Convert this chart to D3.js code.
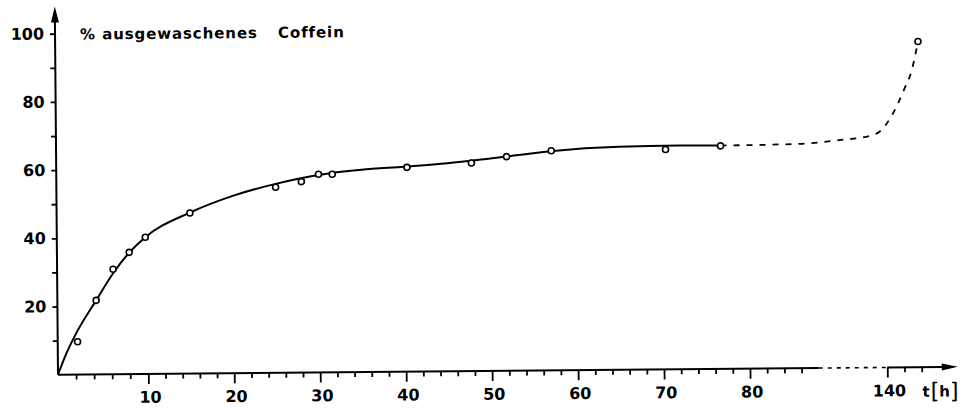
<!DOCTYPE html>
<html><head><meta charset="utf-8">
<script src="https://cdn.jsdelivr.net/npm/d3@7"></script>
<style>
body{margin:0;background:#fff}
svg{display:block}
text{font-family:"DejaVu Sans",sans-serif;font-weight:bold;fill:#000}
</style>
</head><body>
<svg id="c" width="962" height="410"></svg>
<script>
// measured points (t in hours, % washed-out caffeine)
const pointT = [2.2, 4.3, 6.2, 8, 9.8, 15, 25, 28, 30, 31.6, 40.3, 47.8, 51.9, 57.1, 70.4, 76.8, 143.9];
const pointV = [9.6, 21.7, 30.8, 35.7, 40.1, 47.1, 54.4, 56.0, 58.1, 58.1, 59.9, 61.0, 62.8, 64.4, 64.5, 65.4, 95.5];
// drawn fit curve (solid)
const fitT = [0, 1, 2.2, 4.3, 6.2, 8, 9.8, 15, 20, 25, 30, 35, 40, 45, 50, 57, 65, 72, 76.8];
const fitV = [0, 6.5, 12.8, 21.7, 29.6, 35.6, 40.1, 47.2, 52.0, 55.4, 57.9, 59.3, 60.1, 61.0, 62.3, 64.3, 65.4, 65.6, 65.5];
// dashed extrapolation
const dashT = [76.8, 86, 105, 128, 137, 140.6, 142.3, 143.1, 143.9];
const dashV = [65.5, 65.8, 66.8, 67.9, 69.6, 73.1, 81.8, 86.7, 95.5];
// ticks
const xTickValues = [10, 20, 30, 40, 50, 60, 70, 80, 140];
const xTickLabels = ["10", "20", "30", "40", "50", "60", "70", "80", "140"];
const xMinorValues = [2,4,6,8,12,14,16,18,22,24,26,28,32,34,36,38,42,44,46,48,52,54,56,58,62,64,66,68,72,74,76,78,82,84,86,142,144];
const yTickValues = [20, 40, 60, 80, 100];
const yTickLabels = ["20", "40", "60", "80", "100"];
const yMinorValues = [10, 30, 50, 70, 90];
const titleText = "% ausgewaschenes";
const titleText2 = "Coffein";

const svg = d3.select("#c");
const g = svg.append("g").attr("transform", "translate(58,374.7) rotate(-0.5)");

const x = d3.scaleLinear().domain([0, 10, 80, 88, 140, 150]).range([0, 90.3, 692, 760.8, 829.3, 915.3]);
const y = d3.scaleLinear().domain([0, 100]).range([0, -341]);

// x axis line: solid, dotted break, solid + arrow
g.append("line").attr("x1", x(0)).attr("x2", x(88)).attr("y1", 0).attr("y2", 0)
  .attr("stroke", "#000").attr("stroke-width", 2);
g.append("line").attr("x1", x(88)).attr("x2", x(140)).attr("y1", 0).attr("y2", 0)
  .attr("stroke", "#000").attr("stroke-width", 1.6).attr("stroke-dasharray", "4,5");
g.append("line").attr("x1", x(140)).attr("x2", x(146.5)).attr("y1", 0).attr("y2", 0)
  .attr("stroke", "#000").attr("stroke-width", 2);
const ax = x(148.2);
g.append("path").attr("d", `M${ax},0 L${ax-16},-3.6 L${ax-16},3.6 Z`).attr("fill", "#000");

// y axis line + arrow
const ay = y(108);
g.append("line").attr("x1", 0).attr("x2", 0).attr("y1", 0).attr("y2", ay + 10)
  .attr("stroke", "#000").attr("stroke-width", 2);
g.append("path").attr("d", `M0,${ay} L-4,${ay+16} L4,${ay+16} Z`).attr("fill", "#000");

// x ticks
const xMinorAxis = d3.axisBottom(x).tickValues(xMinorValues).tickSize(5).tickFormat("");
const xMajorAxis = d3.axisBottom(x).tickValues(xTickValues).tickSize(10).tickPadding(7.5)
  .tickFormat((d, i) => xTickLabels[i]);
const gxm = g.append("g").call(xMinorAxis);
const gxM = g.append("g").call(xMajorAxis);
[gxm, gxM].forEach(s => { s.select(".domain").remove(); s.selectAll("line").attr("stroke-width", 1.8); });
gxM.selectAll("text").attr("font-size", 16).attr("font-family", "DejaVu Sans").attr("font-weight", "bold").attr("dx", 1.5);

// y ticks
const yMinorAxis = d3.axisLeft(y).tickValues(yMinorValues).tickSize(5).tickFormat("");
const yMajorAxis = d3.axisLeft(y).tickValues(yTickValues).tickSize(5).tickPadding(6)
  .tickFormat((d, i) => yTickLabels[i]);
const gym = g.append("g").call(yMinorAxis);
const gyM = g.append("g").call(yMajorAxis);
[gym, gyM].forEach(s => { s.select(".domain").remove(); s.selectAll("line").attr("stroke-width", 1.8); });
gyM.selectAll("text").attr("font-size", 16).attr("font-family", "DejaVu Sans").attr("font-weight", "bold");

// axis title t[h]
const tl = g.append("text").attr("x", x(140) + 35).attr("y", 29.5).attr("font-size", 15);
tl.append("tspan").text("t");
tl.append("tspan").attr("font-size", 22).attr("font-weight", "normal").attr("dx", 1).attr("dy", 2).text("[");
tl.append("tspan").attr("font-size", 15).attr("dy", -2).text("h");
tl.append("tspan").attr("font-size", 22).attr("font-weight", "normal").attr("dy", 2).text("]");

// title
g.append("text").attr("x", 25).attr("y", y(100) + 6).attr("font-size", 15)
  .attr("letter-spacing", 0.9).text(titleText);
g.append("text").attr("x", 223).attr("y", y(100) + 6).attr("font-size", 15)
  .attr("letter-spacing", 0.9).text(titleText2);

// curves
const line = d3.line().x(d => x(d[0])).y(d => y(d[1])).curve(d3.curveMonotoneX);
g.append("path").attr("d", line(fitT.map((t, i) => [t, fitV[i]])))
  .attr("fill", "none").attr("stroke", "#000").attr("stroke-width", 2);
g.append("path").attr("d", line(dashT.map((t, i) => [t, dashV[i]])))
  .attr("fill", "none").attr("stroke", "#000").attr("stroke-width", 1.8).attr("stroke-dasharray", "6,7");

// points
g.selectAll("circle.pt").data(pointT.map((t, i) => [t, pointV[i]])).join("circle")
  .attr("class", "pt").attr("cx", d => x(d[0])).attr("cy", d => y(d[1])).attr("r", 3)
  .attr("fill", "#fff").attr("stroke", "#000").attr("stroke-width", 1.6);
</script>
</body></html>
